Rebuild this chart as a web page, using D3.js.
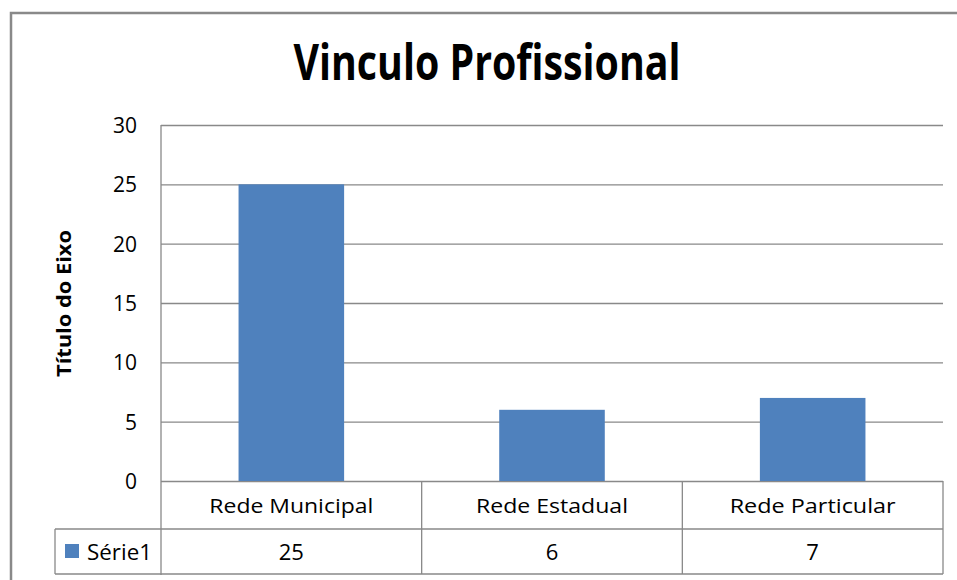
<!DOCTYPE html>
<html><head><meta charset="utf-8">
<script src="https://cdn.jsdelivr.net/npm/d3@7"></script>
<style>body{margin:0;background:#fff}svg{display:block}</style>
</head><body>
<script>
const chartTitle = "Vinculo Profissional";
const axisTitle = "Título do Eixo";
const categories = ["Rede Municipal", "Rede Estadual", "Rede Particular"];
const categoryLabelWidths = [164, 152, 166];
const seriesName = "Série1";
const values = [25, 6, 7];
const yTicks = [0, 5, 10, 15, 20, 25, 30];

const W = 957, H = 580;
const svg = d3.select("body").append("svg").attr("width", W).attr("height", H);
const font = "'Open Sans', 'Liberation Sans', sans-serif";
const gray = "#898989";

// outer frame
svg.append("rect").attr("x", 11).attr("y", 13).attr("width", W + 20).attr("height", H + 20)
  .attr("fill", "none").attr("stroke", gray).attr("stroke-width", 2.5);

const plot = {left: 161, right: 943, top: 125, bottom: 481};
const x = d3.scaleBand().domain(categories).range([plot.left, plot.right]).paddingInner(0.595).paddingOuter(0.2975);
const xCell = d3.scaleBand().domain(categories).range([plot.left, plot.right]);
const y = d3.scaleLinear().domain([0, 30]).range([plot.bottom, plot.top]);

// title
svg.append("text").attr("x", 487).attr("y", 80).attr("text-anchor", "middle")
  .attr("font-family", font).attr("font-weight", "bold")
  .attr("font-size", 51).attr("textLength", 387).attr("lengthAdjust", "spacingAndGlyphs")
  .attr("fill", "#000").text(chartTitle);

// gridlines + y axis
const yAxis = d3.axisLeft(y).tickValues(yTicks).tickSize(-(plot.right - plot.left)).tickPadding(24);
const gy = svg.append("g").attr("transform", `translate(${plot.left},0)`).call(yAxis);
gy.select(".domain").attr("stroke", gray).attr("stroke-width", 1.3).attr("d", `M0,${plot.top}V${plot.bottom + 94}`);
gy.selectAll(".tick line").attr("stroke", gray).attr("stroke-width", 1.3);
gy.selectAll(".tick text").attr("font-family", font).attr("font-size", 21).attr("fill", "#000")
  .attr("dy", "0.36em");

// axis title
svg.append("text").attr("transform", `translate(71,303.5) rotate(-90)`).attr("text-anchor", "middle")
  .attr("font-family", font).attr("font-weight", "bold").attr("font-size", 20).attr("fill", "#000")
  .attr("textLength", 147).attr("lengthAdjust", "spacingAndGlyphs")
  .text(axisTitle);

// bars
svg.append("g").selectAll("rect").data(values).join("rect")
  .attr("x", (d, i) => x(categories[i])).attr("width", x.bandwidth())
  .attr("y", d => y(d)).attr("height", d => y(0) - y(d)).attr("fill", "#4F81BD");

// data table
const rowTop = plot.bottom, rowMid = 529, rowBot = 574, legendLeft = 55;
const tg = svg.append("g").attr("stroke", gray).attr("stroke-width", 1.3);
tg.append("line").attr("x1", legendLeft).attr("x2", plot.right).attr("y1", rowMid).attr("y2", rowMid);
tg.append("line").attr("x1", legendLeft).attr("x2", plot.right).attr("y1", rowBot).attr("y2", rowBot);
tg.append("line").attr("x1", legendLeft).attr("x2", legendLeft).attr("y1", rowMid).attr("y2", rowBot);
tg.selectAll("line.v").data(categories).join("line").attr("class", "v")
  .attr("x1", d => xCell(d) + xCell.bandwidth()).attr("x2", d => xCell(d) + xCell.bandwidth())
  .attr("y1", rowTop).attr("y2", rowBot);

svg.append("g").selectAll("text").data(categories).join("text")
  .attr("x", d => xCell(d) + xCell.bandwidth() / 2).attr("y", 513).attr("text-anchor", "middle")
  .attr("font-family", font).attr("font-size", 20.5).attr("fill", "#000")
  .attr("textLength", (d, i) => categoryLabelWidths[i]).attr("lengthAdjust", "spacingAndGlyphs")
  .text(d => d);

svg.append("g").selectAll("text").data(values).join("text")
  .attr("x", (d, i) => xCell(categories[i]) + xCell.bandwidth() / 2).attr("y", 560).attr("text-anchor", "middle")
  .attr("font-family", font).attr("font-size", 22).attr("fill", "#000").text(d => d);

svg.append("rect").attr("x", 65).attr("y", 544).attr("width", 14).attr("height", 14).attr("fill", "#4F81BD");
svg.append("text").attr("x", 87).attr("y", 560).attr("font-family", font).attr("font-size", 21)
  .attr("textLength", 65).attr("lengthAdjust", "spacingAndGlyphs")
  .attr("fill", "#000").text(seriesName);
</script>
</body></html>
